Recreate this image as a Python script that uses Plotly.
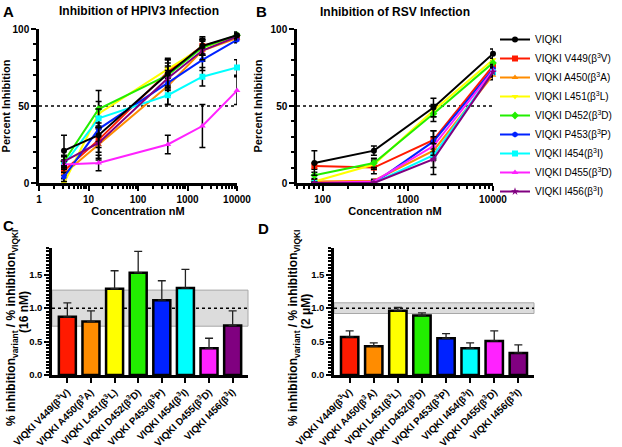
import math
import plotly.graph_objects as go

# ---------------- data ----------------
series_names = ["VIQKI", "VIQKI V449(β<sup>3</sup>V)", "VIQKI A450(β<sup>3</sup>A)",
                "VIQKI L451(β<sup>3</sup>L)", "VIQKI D452(β<sup>3</sup>D)", "VIQKI P453(β<sup>3</sup>P)",
                "VIQKI I454(β<sup>3</sup>I)", "VIQKI D455(β<sup>3</sup>D)", "VIQKI I456(β<sup>3</sup>I)"]

conc_a = [3.2, 16, 400, 2000, 10000]
inh_a = [
    [21, 31, 71, 89, 96],
    [8, 28, 72, 89, 95],
    [6, 25, 63, 86, 94],
    [0, 45, 74, 88, 95],
    [14, 48, 70, 88, 96],
    [4, 35, 65, 80, 93],
    [12, 42, 57, 69, 75],
    [12, 13, 25, 37, 60],
    [14, 26, 68, 86, 95],
]
err_a = [
    [10, 8, 10, 6, 2],
    [3, 8, 8, 5, 2],
    [3, 10, 12, 7, 2],
    [3, 8, 6, 5, 2],
    [4, 12, 8, 5, 1],
    [3, 8, 8, 7, 2],
    [3, 6, 6, 6, 5],
    [2, 5, 6, 14, 9],
    [3, 10, 8, 6, 2],
]

conc_b = [80, 400, 2000, 10000]
inh_b = [
    [13, 21, 49, 84],
    [11, 10, 28, 76],
    [1, 1.5, 21, 70],
    [1, 12, 47, 80],
    [5, 13, 45, 78],
    [0, 0, 27, 74],
    [0, 0, 18, 72],
    [0, 1, 24, 73],
    [0, 0, 15.5, 72],
]
err_b = [
    [8, 3, 6, 3],
    [2, 4, 6, 3],
    [1, 1, 6, 3],
    [1, 3, 4, 3],
    [2, 3, 5, 3],
    [0.5, 0.5, 7, 3],
    [0.5, 0.5, 8, 3],
    [0.5, 1, 6, 3],
    [0.5, 0.5, 10, 3],
]

bar_labels = series_names[1:]
ratio_c = [0.87, 0.80, 1.29, 1.53, 1.12, 1.30, 0.40, 0.74]
ratio_c_err = [0.21, 0.16, 0.27, 0.32, 0.29, 0.28, 0.15, 0.22]
band_c = [0.73, 1.27]
ratio_d = [0.57, 0.43, 0.96, 0.89, 0.55, 0.40, 0.51, 0.33]
ratio_d_err = [0.09, 0.05, 0.05, 0.04, 0.07, 0.08, 0.15, 0.12]
band_d = [0.92, 1.08]
ref_line_ab = 50
ref_line_cd = 1.0

log_major_a = [1, 10, 100, 1000, 10000]
log_major_b = [100, 1000, 10000]
log_minor = [m * 10 ** e for e in range(0, 4) for m in range(2, 10)]
x_min_b = 50

# ---------------- styles ----------------
line_colors = ["#000000", "#FF1A00", "#FF8C00", "#FFFF00", "#22EE00", "#0022FF", "#00FFFF", "#FF22FF", "#800080"]
bar_colors = line_colors[1:]
symbols = ["circle", "square", "triangle-up", "triangle-down", "diamond", "hexagon", "square", "triangle-up", "star"]
FONT = "Liberation Sans, Arial, sans-serif"

fig = go.Figure()

order = list(range(1, 9)) + [0]  # black drawn on top
for i in order:
    fig.add_trace(go.Scatter(
        x=conc_a, y=inh_a[i], mode="lines+markers", name=series_names[i],
        line=dict(color=line_colors[i], width=2),
        marker=dict(color=line_colors[i], symbol=symbols[i], size=6),
        error_y=dict(type="data", array=err_a[i], color="black", thickness=1.5, width=3),
        xaxis="x", yaxis="y", cliponaxis=False, legendrank=i, showlegend=True))
for i in order:
    fig.add_trace(go.Scatter(
        x=conc_b, y=inh_b[i], mode="lines+markers", name=series_names[i],
        line=dict(color=line_colors[i], width=2),
        marker=dict(color=line_colors[i], symbol=symbols[i], size=6),
        error_y=dict(type="data", array=err_b[i], color="black", thickness=1.5, width=3),
        xaxis="x2", yaxis="y2", cliponaxis=False, showlegend=False))

fig.add_trace(go.Bar(
    x=bar_labels, y=ratio_c, width=0.72,
    marker=dict(color=bar_colors, line=dict(color="black", width=2.5)),
    error_y=dict(type="data", symmetric=False, array=ratio_c_err, arrayminus=[0]*8,
                 color="#222", thickness=1.3, width=4),
    xaxis="x3", yaxis="y3", showlegend=False))
fig.add_trace(go.Bar(
    x=bar_labels, y=ratio_d, width=0.72,
    marker=dict(color=bar_colors, line=dict(color="black", width=2.5)),
    error_y=dict(type="data", symmetric=False, array=ratio_d_err, arrayminus=[0]*8,
                 color="#222", thickness=1.3, width=4),
    xaxis="x4", yaxis="y4", showlegend=False))

def px_x(p): return p / 622
def px_y(p): return 1 - p / 447

axis_common = dict(showline=True, linecolor="black", linewidth=2.5, ticks="outside",
                   tickcolor="black", tickwidth=2, ticklen=5, showgrid=False, zeroline=False,
                   automargin=False,
                   tickfont=dict(size=10, color="black", family=FONT, weight="bold"))

minor_log = dict(ticks="outside", ticklen=3, tickwidth=1.5, tickcolor="black", tickvals=log_minor, showgrid=False)
minor_y_ab = dict(ticks="outside", ticklen=3, tickwidth=1.5, tickcolor="black", dtick=10, showgrid=False)
minor_y_cd = dict(ticks="outside", ticklen=3, tickwidth=1.5, tickcolor="black", dtick=0.05, showgrid=False)

title_font = dict(size=11, color="black", family=FONT, weight="bold")
bar_tick_font = dict(size=9.8, color="black", family=FONT, weight="bold")
cd_ytick_font = dict(size=9.5, color="black", family=FONT, weight="bold")

fig.update_layout(
    width=622, height=447, autosize=False,
    margin=dict(l=0, r=0, t=0, b=0),
    paper_bgcolor="white", plot_bgcolor="white",
    font=dict(family=FONT, color="black"),
    xaxis=dict(axis_common, type="log", range=[0, 4], tickvals=log_major_a,
               ticktext=[str(v) for v in log_major_a], domain=[px_x(39), px_x(237)],
               anchor="y", minor=minor_log,
               title=dict(text="Concentration nM", font=title_font, standoff=4)),
    yaxis=dict(axis_common, range=[0, 100], dtick=50, domain=[px_y(183), px_y(29)], anchor="x",
               minor=minor_y_ab, title=dict(text="Percent Inhibition", font=title_font, standoff=6)),
    xaxis2=dict(axis_common, type="log", range=[math.log10(x_min_b), 4.0], tickvals=log_major_b,
                ticktext=[str(v) for v in log_major_b], domain=[px_x(297), px_x(493)],
                anchor="y2", minor=minor_log,
                title=dict(text="Concentration nM", font=title_font, standoff=4)),
    yaxis2=dict(axis_common, range=[0, 100], dtick=50, domain=[px_y(183), px_y(29)], anchor="x2",
                minor=minor_y_ab, title=dict(text="Percent Inhibition", font=title_font, standoff=6)),
    xaxis3=dict(axis_common, type="category", range=[-0.65, 7.65], domain=[px_x(52), px_x(248)],
                anchor="y3", tickangle=-45, tickfont=bar_tick_font),
    yaxis3=dict(axis_common, range=[0, 1.9], tickvals=[0, 0.5, 1.0, 1.5], ticktext=["0.0", "0.5", "1.0", "1.5"],
                domain=[px_y(375), px_y(248)], anchor="x3", minor=minor_y_cd, tickfont=cd_ytick_font),
    xaxis4=dict(axis_common, type="category", range=[-0.65, 7.65], domain=[px_x(334), px_x(534)],
                anchor="y4", tickangle=-45, tickfont=bar_tick_font),
    yaxis4=dict(axis_common, range=[0, 1.9], tickvals=[0, 0.5, 1.0, 1.5], ticktext=["0.0", "0.5", "1.0", "1.5"],
                domain=[px_y(375), px_y(248)], anchor="x4", minor=minor_y_cd, tickfont=cd_ytick_font),
    legend=dict(x=px_x(495), y=px_y(25), xanchor="left", yanchor="top",
                font=dict(size=10, color="black", family=FONT), bgcolor="rgba(0,0,0,0)",
                traceorder="normal", itemwidth=30),
    bargap=0.3,
)

shapes = []
for xr, yr in [("x domain", "y"), ("x2 domain", "y2")]:
    shapes.append(dict(type="line", xref=xr, yref=yr, x0=0, x1=1, y0=ref_line_ab, y1=ref_line_ab,
                       line=dict(color="black", width=1.5, dash="dot"), layer="below"))
for xr, yr, band in [("x3 domain", "y3", band_c), ("x4 domain", "y4", band_d)]:
    shapes.append(dict(type="rect", xref=xr, yref=yr, x0=0, x1=1, y0=band[0], y1=band[1],
                       fillcolor="#DCDCDC", line=dict(color="#A8A8A8", width=1), layer="below"))
    shapes.append(dict(type="line", xref=xr, yref=yr, x0=0, x1=1, y0=ref_line_cd, y1=ref_line_cd,
                       line=dict(color="black", width=1.5, dash="dot"), layer="below"))
fig.update_layout(shapes=shapes)

ann = []
for txt, x, y in [("A", 8, 11), ("B", 261, 11), ("C", 8, 225), ("D", 263, 228)]:
    ann.append(dict(text=txt, x=px_x(x), y=px_y(y), xref="paper", yref="paper", showarrow=False,
                    xanchor="center", yanchor="middle", font=dict(size=15, family=FONT, color="black", weight="bold")))
for txt, x, y in [("Inhibition of HPIV3 Infection", 139, 11), ("Inhibition of RSV Infection", 395, 12)]:
    ann.append(dict(text=txt, x=px_x(x), y=px_y(y), xref="paper", yref="paper", showarrow=False,
                    xanchor="center", yanchor="middle", font=dict(size=12, family=FONT, color="black", weight="bold")))
ytitle_main = "% inhibition<sub>variant</sub> / % inhibition<sub>VIQKI</sub>"
ytitle_font = dict(size=12, family=FONT, color="black", weight="bold")
for sub, axis_px in [("(16 nM)", 52), ("(2 μM)", 334)]:
    ann.append(dict(text=ytitle_main, x=px_x(axis_px - 40), y=px_y(328), xref="paper", yref="paper",
                    showarrow=False, textangle=-90, xanchor="center", yanchor="middle", font=ytitle_font))
    ann.append(dict(text=sub, x=px_x(axis_px - 28), y=px_y(312), xref="paper", yref="paper",
                    showarrow=False, textangle=-90, xanchor="center", yanchor="middle", font=ytitle_font))
fig.update_layout(annotations=ann)

fig.write_html("out.html", config={"displayModeBar": False},
               post_script="document.body.style.margin='0px';document.body.style.padding='0px';")
